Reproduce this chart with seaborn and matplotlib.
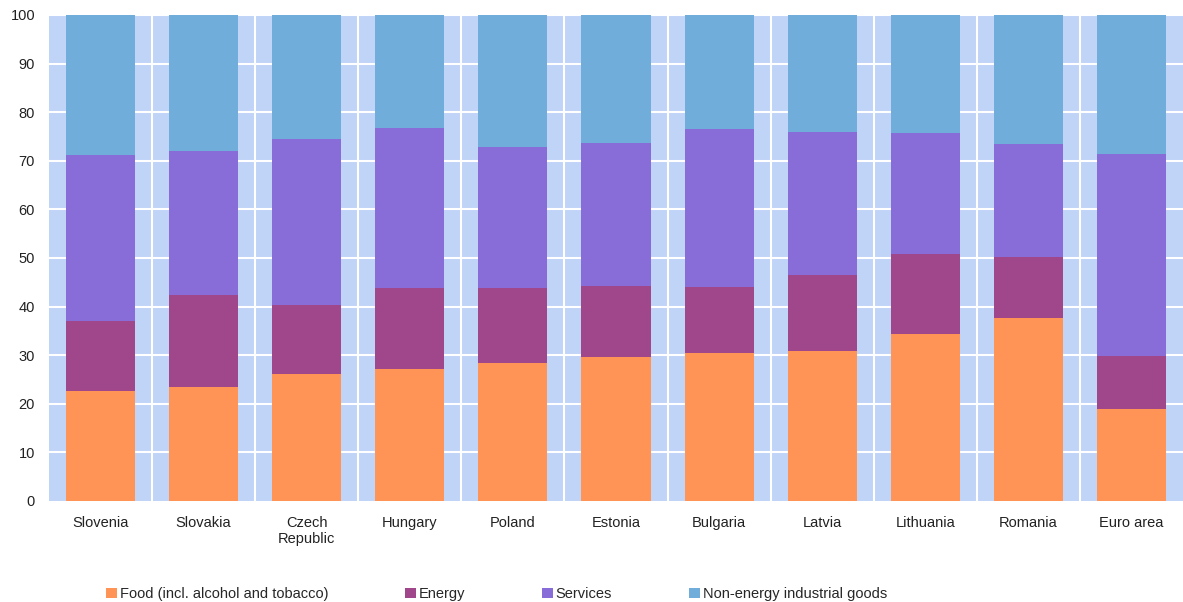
import numpy as np
import pandas as pd
import matplotlib
matplotlib.use("Agg")
import matplotlib.pyplot as plt
from matplotlib.patches import Patch
import seaborn as sns

countries = ["Slovenia", "Slovakia", "Czech\nRepublic", "Hungary", "Poland", "Estonia",
             "Bulgaria", "Latvia", "Lithuania", "Romania", "Euro area"]
food = [22.6, 23.5, 26.2, 27.2, 28.4, 29.6, 30.5, 30.9, 34.4, 37.7, 18.9]
energy = [14.5, 18.9, 14.2, 16.6, 15.4, 14.6, 13.5, 15.6, 16.4, 12.5, 10.9]
services = [34.1, 29.6, 34.1, 32.9, 29.0, 29.5, 32.5, 29.4, 24.9, 23.3, 41.6]
nonenergy = [round(100 - f - e - s, 1) for f, e, s in zip(food, energy, services)]

series_names = ["Food (incl. alcohol and tobacco)", "Energy", "Services",
                "Non-energy industrial goods"]
colors = ["#FF9456", "#A0468A", "#886CD8", "#70ADDA"]

sns.set_theme(style="white")
plt.rcParams["font.family"] = ["Liberation Sans", "DejaVu Sans"]
plt.rcParams["font.size"] = 10.5

fig = plt.figure(figsize=(11.83, 6.02), dpi=100)
ax = fig.add_axes([49 / 1183, 1 - 501 / 602, 1 - 49 / 1183, (501 - 15) / 602])
ax.set_facecolor("#C0D4F8")

cum = np.cumsum(np.array([food, energy, services, nonenergy]), axis=0)
df = pd.DataFrame({"country": countries})
# draw from top of stack downward
for i in range(3, -1, -1):
    df["v"] = cum[i]
    sns.barplot(data=df, x="country", y="v", color=colors[i], width=0.67,
                saturation=1, ax=ax, zorder=3, linewidth=0)

ax.set_ylim(0, 100)
ax.set_xlim(-0.5, len(countries) - 0.5)
ax.set_yticks(range(0, 101, 10))
for y in range(10, 101, 10):
    ax.axhline(y, color="white", lw=1.5, zorder=1)
for k in range(len(countries) - 1):
    ax.axvline(k + 0.5, color="white", lw=1.5, zorder=1)
for s in ax.spines.values():
    s.set_visible(False)
ax.set_xlabel("")
ax.set_ylabel("")
ax.tick_params(axis="both", length=0, labelsize=10.5, colors="#222222")
ax.tick_params(axis="x", pad=11)
ax.tick_params(axis="y", pad=10)

handles = [Patch(facecolor=c, edgecolor="none") for c in colors]
fig.legend(handles, series_names, loc="center", bbox_to_anchor=(0.4196, 1 - 594 / 602),
           ncol=4, frameon=False, fontsize=10.5, handlelength=0.75, handleheight=0.75,
           handletextpad=0.2, columnspacing=5.25)

fig.savefig("out.png", dpi=100)
